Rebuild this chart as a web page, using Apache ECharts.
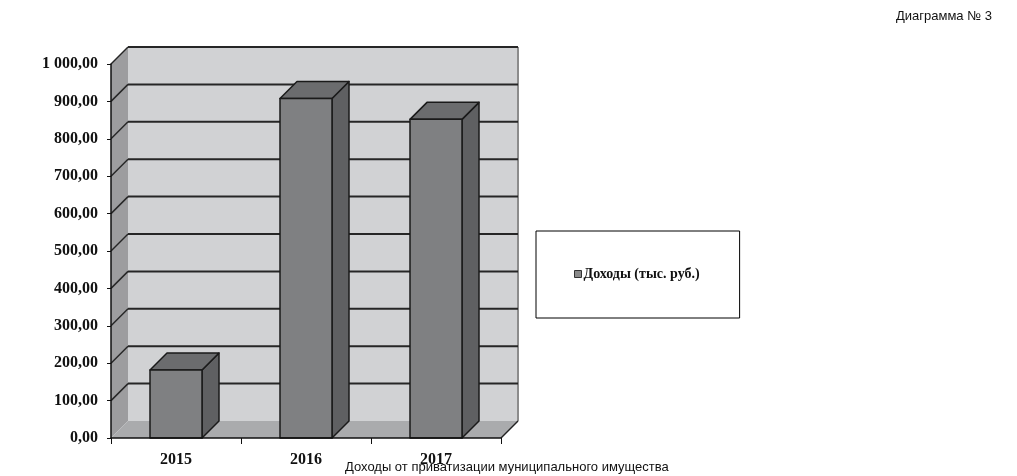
<!DOCTYPE html>
<html>
<head>
<meta charset="utf-8">
<script src="https://cdn.jsdelivr.net/npm/echarts@6/dist/echarts.min.js"></script>
<style>
  html, body { margin: 0; padding: 0; background: #fff; }
  #chart { width: 1017px; height: 476px; }
</style>
</head>
<body>
<div id="chart"></div>
<script>
// данные диаграммы
const years = ['2015', '2016', '2017'];
const incomes = [182, 908, 852];
const yTicks = [0, 100, 200, 300, 400, 500, 600, 700, 800, 900, 1000];
const seriesName = 'Доходы (тыс. руб.)';
const chartTitle = 'Диаграмма № 3';
const caption = 'Доходы от приватизации муниципального имущества';

// глубина "3D" смещения
const DX = 17, DY = -17;

function fmt(v) {
  const parts = v.toFixed(2).split('.');
  const int = parts[0].replace(/\B(?=(\d{3})+(?!\d))/g, ' ');
  return int + ',' + parts[1];
}

const chart = echarts.init(document.getElementById('chart'));

const option = {
  animation: false,
  title: [
    {
      text: chartTitle,
      right: 20,
      top: 5,
      textStyle: { fontFamily: 'Liberation Sans, Arial, sans-serif', fontSize: 13, fontWeight: 'normal', color: '#111' }
    },
    {
      text: caption,
      left: 340,
      top: 456,
      textStyle: { fontFamily: 'Liberation Sans, Arial, sans-serif', fontSize: 13, fontWeight: 'normal', color: '#111' }
    }
  ],
  legend: {
    data: [{ name: seriesName, icon: 'rect' }],
    left: 536,
    top: 231,
    padding: [36, 40, 37, 38],
    itemWidth: 7,
    itemHeight: 7,
    borderColor: '#000',
    borderWidth: 1,
    itemStyle: { color: '#8a8a8a', borderColor: '#333', borderWidth: 1 },
    textStyle: { fontFamily: 'Liberation Serif, Times New Roman, serif', fontSize: 14, fontWeight: 'bold', color: '#111', padding: [0, 0, 0, -3] }
  },
  grid: { left: 111, top: 64, width: 390, height: 374 },
  xAxis: {
    type: 'category',
    data: years,
    axisLine: { lineStyle: { color: '#111', width: 1.5 } },
    axisTick: { show: true, length: 6, alignWithLabel: false, lineStyle: { color: '#111' } },
    axisLabel: { margin: 14, fontFamily: 'Liberation Serif, Times New Roman, serif', fontSize: 16, fontWeight: 'bold', color: '#111' },
    z: 5
  },
  yAxis: {
    type: 'value',
    min: 0,
    max: 1000,
    interval: 100,
    axisLine: { show: true, lineStyle: { color: '#111', width: 1.5 } },
    axisTick: { show: true, length: 4, lineStyle: { color: '#111' } },
    axisLabel: { margin: 13, formatter: v => fmt(v), fontFamily: 'Liberation Serif, Times New Roman, serif', fontSize: 16, fontWeight: 'bold', color: '#111' },
    splitLine: { show: false },
    z: 5
  },
  series: [
    {
      // стенки и пол
      type: 'custom',
      name: 'walls',
      silent: true,
      z: 1,
      data: [[0, 0]],
      renderItem: function (params, api) {
        const cs = params.coordSys;
        const x0 = cs.x, x1 = cs.x + cs.width;
        const yb = api.coord([0, 0])[1];
        const yt = api.coord([0, yTicks[yTicks.length - 1]])[1];
        const children = [
          { type: 'polygon', shape: { points: [[x0, yt], [x0 + DX, yt + DY], [x0 + DX, yb + DY], [x0, yb]] }, style: { fill: '#9d9d9f' } },
          { type: 'polygon', shape: { points: [[x0 + DX, yt + DY], [x1 + DX, yt + DY], [x1 + DX, yb + DY], [x0 + DX, yb + DY]] }, style: { fill: '#d1d2d4' } },
          { type: 'polygon', shape: { points: [[x0, yb], [x0 + DX, yb + DY], [x1 + DX, yb + DY], [x1, yb]] }, style: { fill: '#aaabad' } },
          { type: 'line', shape: { x1: x1 + DX, y1: yt + DY, x2: x1 + DX, y2: yb + DY }, style: { stroke: '#8c8c8c', lineWidth: 2 } },
          { type: 'line', shape: { x1: x1, y1: yb, x2: x1 + DX, y2: yb + DY }, style: { stroke: '#222', lineWidth: 1.5 } }
        ];
        yTicks.forEach(function (t) {
          if (t === 0) return;
          const y = api.coord([0, t])[1];
          children.push({ type: 'line', shape: { x1: x0 + DX, y1: y + DY, x2: x1 + DX, y2: y + DY }, style: { stroke: '#262626', lineWidth: 2 } });
          children.push({ type: 'line', shape: { x1: x0, y1: y, x2: x0 + DX, y2: y + DY }, style: { stroke: '#262626', lineWidth: 1.5 } });
        });
        return { type: 'group', children: children };
      }
    },
    {
      type: 'custom',
      name: seriesName,
      z: 3,
      itemStyle: { color: '#8a8a8a' },
      data: incomes.map((v, i) => [i, v]),
      renderItem: function (params, api) {
        const base = api.coord([api.value(0), 0]);
        const top = api.coord([api.value(0), api.value(1)]);
        const w = api.size([1, 0])[0] * 0.4;
        const l = base[0] - w / 2, r = base[0] + w / 2;
        const stroke = { stroke: '#1a1a1a', lineWidth: 1.5, lineJoin: 'round' };
        return {
          type: 'group',
          children: [
            { type: 'polygon', shape: { points: [[r, top[1]], [r + DX, top[1] + DY], [r + DX, base[1] + DY], [r, base[1]]] }, style: Object.assign({ fill: '#5f6062' }, stroke) },
            { type: 'polygon', shape: { points: [[l, top[1]], [l + DX, top[1] + DY], [r + DX, top[1] + DY], [r, top[1]]] }, style: Object.assign({ fill: '#6b6c6e' }, stroke) },
            { type: 'rect', shape: { x: l, y: top[1], width: w, height: base[1] - top[1] }, style: Object.assign({ fill: '#7f8082' }, stroke) }
          ]
        };
      }
    }
  ]
};

chart.setOption(option);
</script>
</body>
</html>
